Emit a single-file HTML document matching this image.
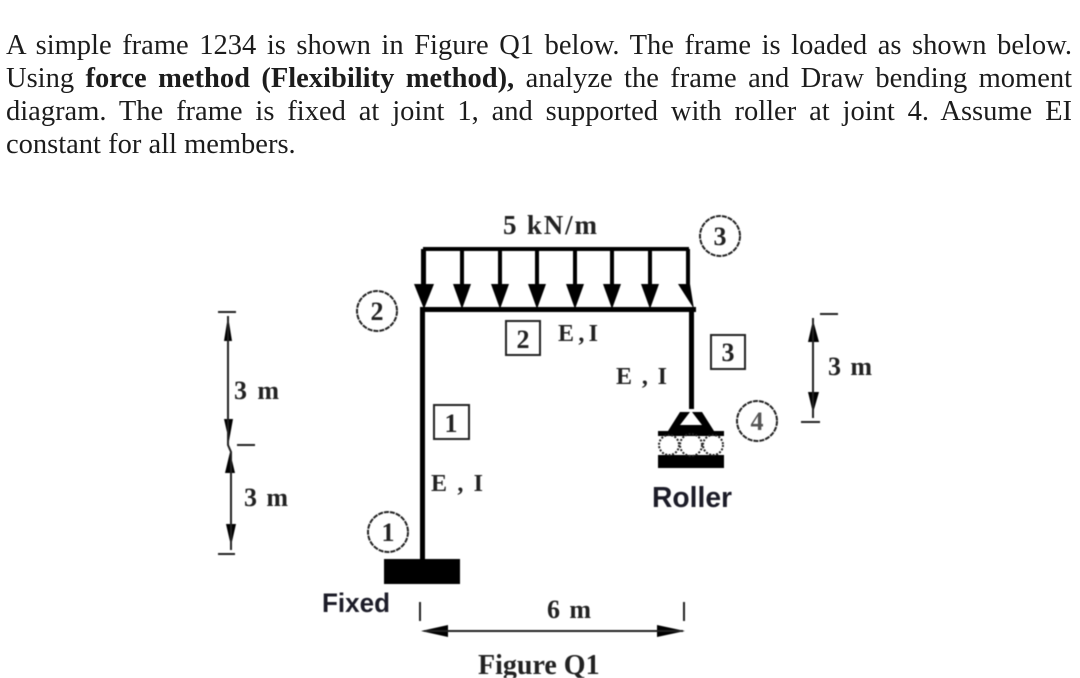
<!DOCTYPE html>
<html>
<head>
<meta charset="utf-8">
<style>
html,body{margin:0;padding:0;background:#fff;}
body{width:1080px;height:678px;overflow:hidden;position:relative;font-family:"Liberation Serif",serif;color:#1c1c1c;}
.l{position:absolute;left:6px;width:1066px;font-size:28.5px;line-height:33px;height:33px;white-space:nowrap;text-align:justify;text-align-last:justify;}
svg{position:absolute;left:0;top:0;filter:blur(0.4px);}
.n{font-family:"Liberation Serif",serif;font-weight:bold;fill:#222;}
.s{font-family:"Liberation Sans",sans-serif;font-weight:bold;fill:#1c1c28;}
</style>
</head>
<body>
<div class="l" style="top:29px">A simple frame 1234 is shown in Figure Q1 below. The frame is loaded as shown below.</div>
<div class="l" style="top:62px">Using <b>force method (Flexibility method),</b> analyze the frame and Draw bending moment</div>
<div class="l" style="top:95px">diagram. The frame is fixed at joint 1, and supported with roller at joint 4. Assume EI</div>
<div class="l" style="top:128px;text-align-last:left">constant for all members.</div>
<svg width="1080" height="678" viewBox="0 0 1080 678">
<g fill="#000" stroke="none">
<rect x="423" y="247" width="266" height="4"/>
<rect x="421" y="249" width="5" height="40"/>
<rect x="460" y="249" width="4" height="40"/>
<rect x="498" y="249" width="4" height="40"/>
<rect x="535" y="249" width="4" height="40"/>
<rect x="573" y="249" width="4" height="40"/>
<rect x="610" y="249" width="4" height="40"/>
<rect x="648" y="249" width="4" height="40"/>
<rect x="686" y="249" width="4" height="40"/>
<polygon points="414,284 434,284 424,309"/>
<polygon points="453,284 471,284 462,309"/>
<polygon points="491,284 509,284 500,309"/>
<polygon points="528,284 546,284 537,309"/>
<polygon points="566,284 584,284 575,309"/>
<polygon points="603,284 621,284 612,309"/>
<polygon points="641,284 659,284 650,309"/>
<polygon points="678,284 690,284 694,309"/>
<rect x="420" y="307" width="276" height="5"/>
<rect x="420" y="307" width="5" height="254"/>
<rect x="689" y="307" width="5" height="102"/>
<rect x="384" y="559" width="76" height="25"/>
<rect x="658" y="431" width="66" height="5"/>
<rect x="658" y="455" width="66" height="13"/>
<polygon points="668,431 680,412 690,412 680,425 702,425 692,412 702,412 714,431"/>
<polygon points="228,316 232,341 224,341"/>
<polygon points="224,419 233,419 229,441"/>
<polygon points="230,452 235,473 225,473"/>
<polygon points="226,524 236,524 231,546"/>
<polygon points="813,320 819,342 808,342"/>
<polygon points="808,392 819,392 813,413"/>
<polygon points="421,631 448,625 448,637"/>
<polygon points="685,631 657,625 657,637"/>
</g>
<g fill="none" stroke="#222" stroke-width="2">
<circle cx="377" cy="311" r="20" stroke-dasharray="5 1"/>
<circle cx="720" cy="236" r="20" stroke-dasharray="5 1"/>
<circle cx="388" cy="532" r="20" stroke-dasharray="5 1"/>
<circle cx="757" cy="421" r="20" stroke-dasharray="5 1"/>
<rect x="506" y="321" width="34" height="34"/>
<rect x="711" y="335" width="34" height="34"/>
<rect x="434" y="405" width="35" height="34"/>
<circle cx="669" cy="445" r="10" stroke-dasharray="2 1.5"/>
<circle cx="691" cy="445" r="11" stroke-dasharray="2 1.5"/>
<circle cx="713" cy="445" r="10" stroke-dasharray="2 1.5"/>
<path d="M228 316V445L231 452V550"/>
<path d="M813 318V418"/>
<path d="M425 631H683"/>
<path d="M218 312H236M237 445H255M218 554H235M820 314H838M801 422H820M420 602V621M684 602V621"/>
</g>
<g class="n" font-size="26">
<text x="503" y="234" font-size="27" textLength="94">5 kN/m</text>
<text x="377" y="320" text-anchor="middle">2</text>
<text x="720" y="245" text-anchor="middle">3</text>
<text x="388" y="541" text-anchor="middle">1</text>
<text x="757" y="430" text-anchor="middle" fill="#555">4</text>
<text x="523" y="348" text-anchor="middle">2</text>
<text x="728" y="361" text-anchor="middle">3</text>
<text x="451" y="432" text-anchor="middle">1</text>
<text x="558" y="341" font-size="24" textLength="40">E,I</text>
<text x="616" y="384" font-size="24" textLength="51">E , I</text>
<text x="431" y="491" font-size="24" textLength="52">E , I</text>
<text x="234" y="399" textLength="45">3 m</text>
<text x="244" y="506" textLength="44">3 m</text>
<text x="828" y="375" textLength="44">3 m</text>
<text x="547" y="618" textLength="44">6 m</text>
<text x="478" y="674" font-size="28">Figure Q1</text>
</g>
<text class="s" x="322" y="612" font-size="27" textLength="68" lengthAdjust="spacingAndGlyphs">Fixed</text>
<text class="s" x="652" y="507" font-size="29" textLength="80" lengthAdjust="spacingAndGlyphs">Roller</text>
</svg>
</body>
</html>
